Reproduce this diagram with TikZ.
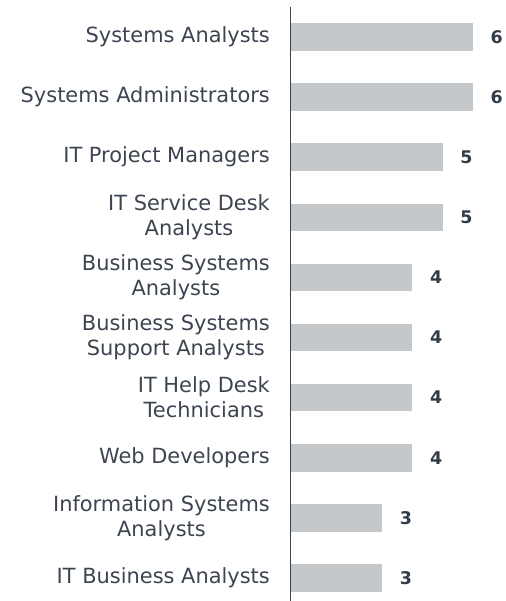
\documentclass[tikz,border=0pt]{standalone}
\usepackage{fontspec}
\setmainfont{DejaVu Sans}
\definecolor{txt}{HTML}{3B4450}
\definecolor{valc}{HTML}{323C48}
\definecolor{barc}{HTML}{C5C8CB}
\definecolor{axisc}{HTML}{3A4450}
\begin{document}
\begin{tikzpicture}[x=1bp,y=-1bp,
  barbox/.style={fill=barc,draw=none},
  cat/.style={anchor=east,align=center,text=txt,font=\fontsize{21}{25}\selectfont,inner sep=0pt},
  val/.style={anchor=center,text=valc,font=\fontsize{17.5}{20}\selectfont\bfseries,inner sep=0pt}]
\useasboundingbox (0,0) rectangle (506,601);
\foreach \i/\v/\l in {0/6/{Systems Analysts},1/6/{Systems Administrators},2/5/{IT Project Managers},3/5/{IT Service Desk\\Analysts},4/4/{Business Systems\\Analysts},5/4/{Business Systems\\Support Analysts},6/4/{IT Help Desk\\Technicians},7/4/{Web Developers},8/3/{Information Systems\\Analysts},9/3/{IT Business Analysts}}{
  \pgfmathsetmacro{\yc}{37+60.1*\i}
  \pgfmathsetmacro{\xe}{291+30.3*\v}
  \fill[barbox] (291,\yc-13.8) rectangle (\xe,\yc+13.8);
  \node[cat] (c\i) at (270,\yc) {\l};
  \node[val] (v\i) at (\xe+24,\yc) {\v};
}
\draw[axisc,line width=1.4bp] (290.7,7) -- (290.7,601);
\end{tikzpicture}
\end{document}
